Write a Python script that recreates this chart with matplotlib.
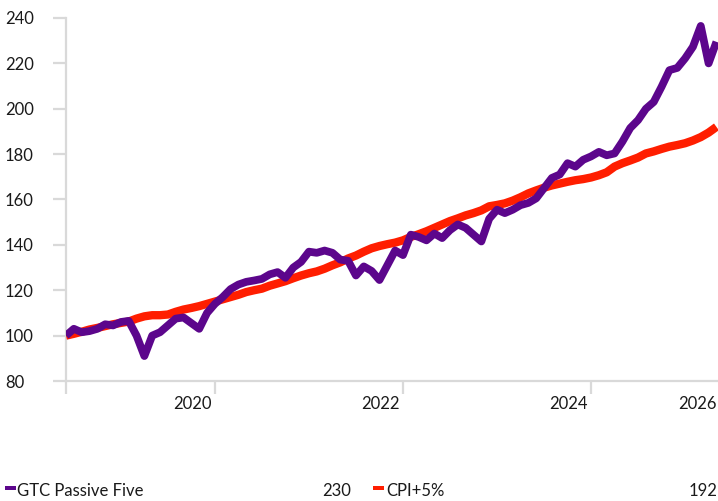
import matplotlib
matplotlib.use("Agg")
import matplotlib.pyplot as plt
import matplotlib.transforms as mtransforms
from matplotlib.patches import Rectangle

plt.rcParams['font.family'] = ['Lato', 'DejaVu Sans']

# ---- data (monthly index, rebased to 100) ----
gtc_passive_five = [
    100, 103, 101.5, 102, 103, 105, 104.5, 106, 106.5, 100,
    91, 100, 101.5, 104.5, 107.5, 108, 105.5, 103, 110, 114,
    117, 120.5, 122.5, 123.7, 124.3, 125, 127, 128, 125.5, 130,
    132.5, 137, 136.5, 137.5, 136.5, 133.5, 133, 126.5, 130.5, 128.5,
    124.5, 131, 137.5, 135.5, 144.5, 143.5, 142, 145, 143, 146.5,
    149, 147.5, 144.5, 141.5, 151.5, 155.5, 154, 155.5, 157.5, 158.5,
    160.5, 165, 169.5, 171, 176, 174.5, 177.5, 179, 181, 179.5,
    180.3, 185.5, 191.5, 195, 200, 203, 209.7, 217, 218, 222.2,
    227.3, 236.5, 220, 229.5,
]
cpi_plus_5 = [
    100, 100.8, 101.7, 102.7, 103.4, 104.2, 105, 105.6, 106.2, 107.5,
    108.5, 109, 109, 109.3, 110.5, 111.5, 112.2, 113, 114, 115,
    116, 117, 118, 119.2, 120, 120.7, 122, 123, 124, 125.3,
    126.5, 127.5, 128.3, 129.5, 131, 132.3, 134, 135.3, 137, 138.5,
    139.5, 140.3, 141, 142, 143.5, 144.7, 146, 147.5, 149, 150.5,
    151.7, 153, 154, 155.2, 157, 157.6, 158.3, 159.5, 161, 162.7,
    164, 165.2, 166.2, 167, 167.8, 168.5, 169, 169.7, 170.7, 172,
    174.5, 176, 177.2, 178.5, 180.3, 181.2, 182.3, 183.3, 184, 184.8,
    186, 187.5, 189.5, 192,
]
months = list(range(len(gtc_passive_five)))

series_names = ["GTC Passive Five", "CPI+5%"]
series_last = ["230", "192"]
x_tick_pos = [19, 43, 67]
x_tick_labels = ["2020", "2022", "2024"]
x_end_label = "2026"
y_ticks = [80, 100, 120, 140, 160, 180, 200, 220, 240]

PURPLE = "#5C068C"
RED = "#FF1E00"
GRID = "#d9d9d9"

W, H = 718, 501
fig = plt.figure(figsize=(W / 100, H / 100), dpi=100)
ax = fig.add_axes([66 / W, 1 - 381 / H, 1 - 66 / W, (381 - 18) / H])

ax.plot(months, cpi_plus_5, color=RED, lw=6.0, solid_joinstyle='round', solid_capstyle='butt', zorder=3)
ax.plot(months, gtc_passive_five, color=PURPLE, lw=5.6, solid_joinstyle='round', solid_capstyle='butt', zorder=4)

ax.set_xlim(0, 83.2)
ax.set_ylim(80, 240)

for s in ['top', 'right']:
    ax.spines[s].set_visible(False)
for s in ['left', 'bottom']:
    ax.spines[s].set_color(GRID)
    ax.spines[s].set_linewidth(1.6)

ax.set_xticks([0] + x_tick_pos)
ax.set_xticklabels([])
ax.tick_params(axis='x', length=9.4, width=1.6, color=GRID, direction='out')

ax.set_yticks(y_ticks)
ax.set_yticklabels([str(v) for v in y_ticks])
ax.tick_params(axis='y', length=9.4, width=1.6, color=GRID, direction='out',
               pad=34.5, labelsize=12, labelcolor='#1a1a1a')
for lab in ax.get_yticklabels():
    lab.set_horizontalalignment('left')

# x labels: right-aligned just left of each tick
xtr = mtransforms.offset_copy(ax.get_xaxis_transform(), fig=fig, x=-3, y=-15, units='dots')
for p, l in zip(x_tick_pos, x_tick_labels):
    ax.text(p, 0, l, transform=xtr, ha='right', va='top', fontsize=12, color='#1a1a1a', clip_on=False)
xtr2 = mtransforms.offset_copy(ax.get_xaxis_transform(), fig=fig, x=-1, y=-15, units='dots')
ax.text(83.2, 0, x_end_label, transform=xtr2, ha='right', va='top', fontsize=12, color='#1a1a1a', clip_on=False)

# legend row at bottom
ly = 1 - 491 / H
items = [(5, 17, 351, PURPLE), (373, 386, 717, RED)]
for (rx, tx, vx, c), name, last in zip(items, series_names, series_last):
    fig.patches.append(Rectangle((rx / W, 1 - 490 / H), 11 / W, 4 / H, transform=fig.transFigure,
                                 facecolor=c, edgecolor='none'))
    fig.text(tx / W, ly, name, ha='left', va='center', fontsize=12, color='#1a1a1a')
    fig.text(vx / W, ly, last, ha='right', va='center', fontsize=12, color='#1a1a1a')

fig.savefig("out.png", dpi=100)
